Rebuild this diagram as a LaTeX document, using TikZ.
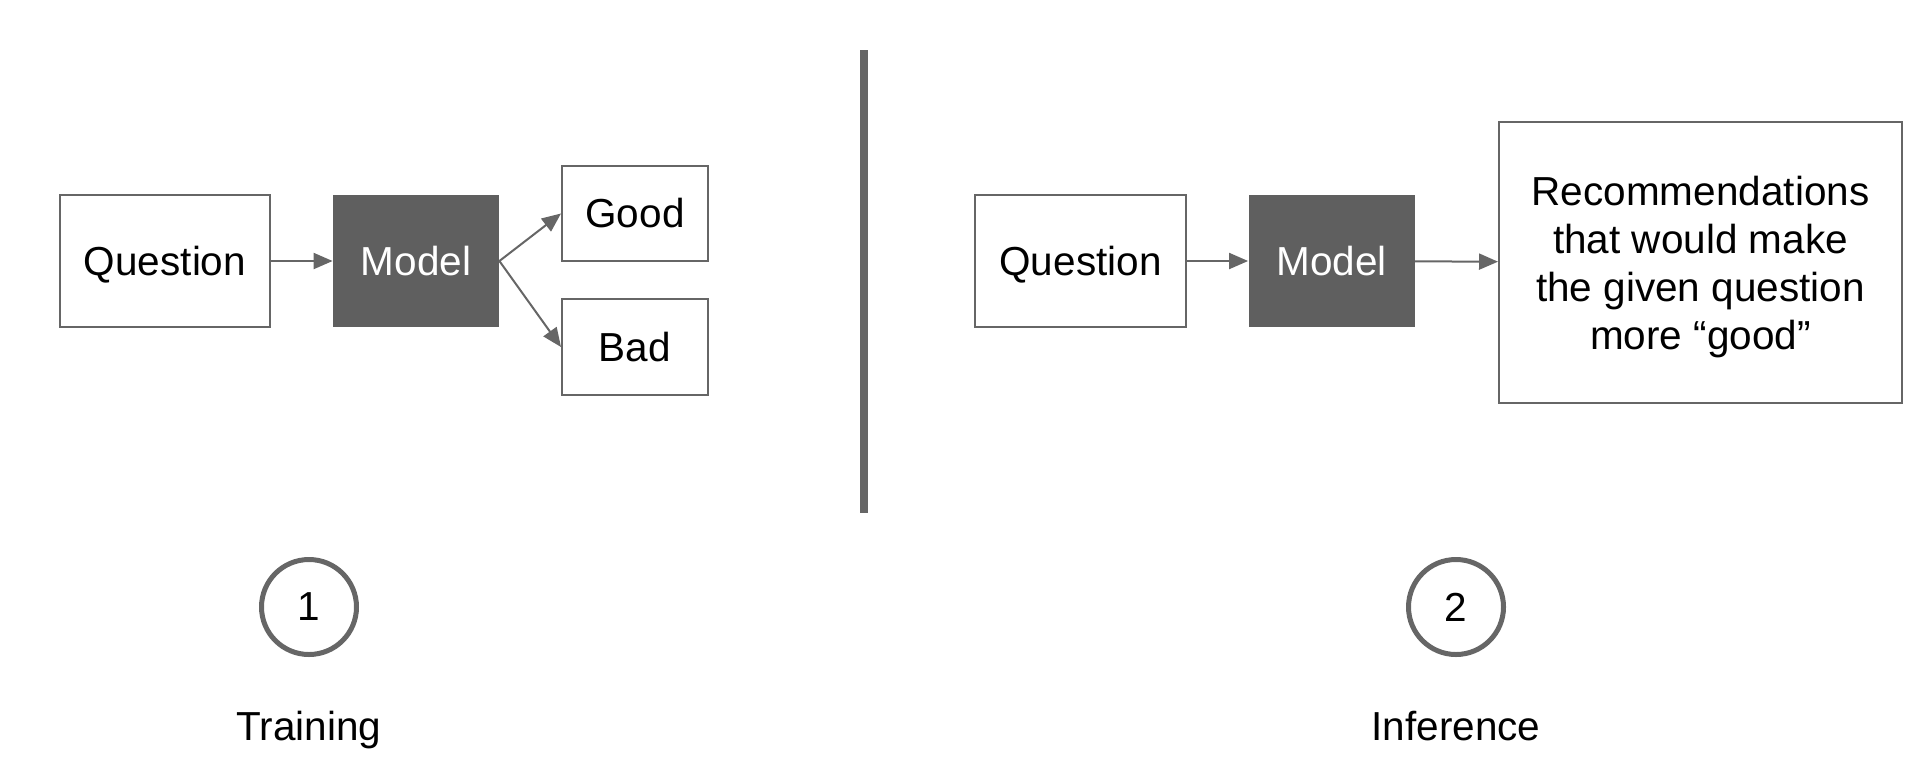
\documentclass[tikz,border=0pt]{standalone}
\usepackage{fontspec}
\setmainfont{Liberation Sans}
\usetikzlibrary{arrows.meta}
\definecolor{edgegray}{HTML}{666666}
\definecolor{modelgray}{HTML}{5F5F5F}

\begin{document}
\begin{tikzpicture}[x=0.5pt,y=-0.5pt,
  every node/.style={font=\fontsize{20.25pt}{24pt}\selectfont},
  box/.style={draw=edgegray,line width=1pt,inner sep=0pt},
  oneline/.style={text height=14pt,text depth=0pt},
  modelbox/.style={fill=modelgray,text=white,inner sep=0pt,minimum width=83pt,minimum height=66pt,oneline},
  link/.style={draw=edgegray,line width=1pt,-{Triangle[length=9.5pt,width=8pt]}},
  stepcircle/.style={circle,draw=edgegray,line width=2.5pt,minimum size=47.5pt,inner sep=0pt}]
\useasboundingbox (0,0) rectangle (1930,778);
% training
\node[box,oneline,minimum width=105pt,minimum height=66pt] (qtrain) at (165,261) {Question};
\node[modelbox] (mtrain) at (416,261) {Model};
\node[box,oneline,minimum width=73pt,minimum height=47.5pt] (good) at (635,213.5) {Good};
\node[box,oneline,minimum width=73pt,minimum height=48pt] (bad) at (635,347) {Bad};
\draw[link] (qtrain) -- (mtrain);
\draw[link] (mtrain.east) -- (good.west);
\draw[link] (mtrain.east) -- (bad.west);
% divider
\coordinate (divtop) at (864,50);
\coordinate (divbot) at (864,513);
\draw[edgegray,line width=4pt] (divtop) -- (divbot);
% inference
\node[box,oneline,minimum width=105.5pt,minimum height=66pt] (qinfer) at (1080.5,261) {Question};
\node[modelbox] (minfer) at (1331.5,261) {Model};
\node[box,minimum width=201.5pt,minimum height=140.5pt,align=center,text depth=-1pt] (rec) at (1700.5,262.5)
  {Recommendations\\that would make\\the given question\\more “good”};
\draw[link] (qinfer) -- (minfer);
\draw[link] (minfer) -- (rec);
% steps
\node[stepcircle] (one) at (309,607) {1};
\node[stepcircle] (two) at (1456,607) {2};
\node[anchor=base] (train) at (309,740) {Training};
\node[anchor=base] (infer) at (1456,740) {Inference};
\end{tikzpicture}
\end{document}
